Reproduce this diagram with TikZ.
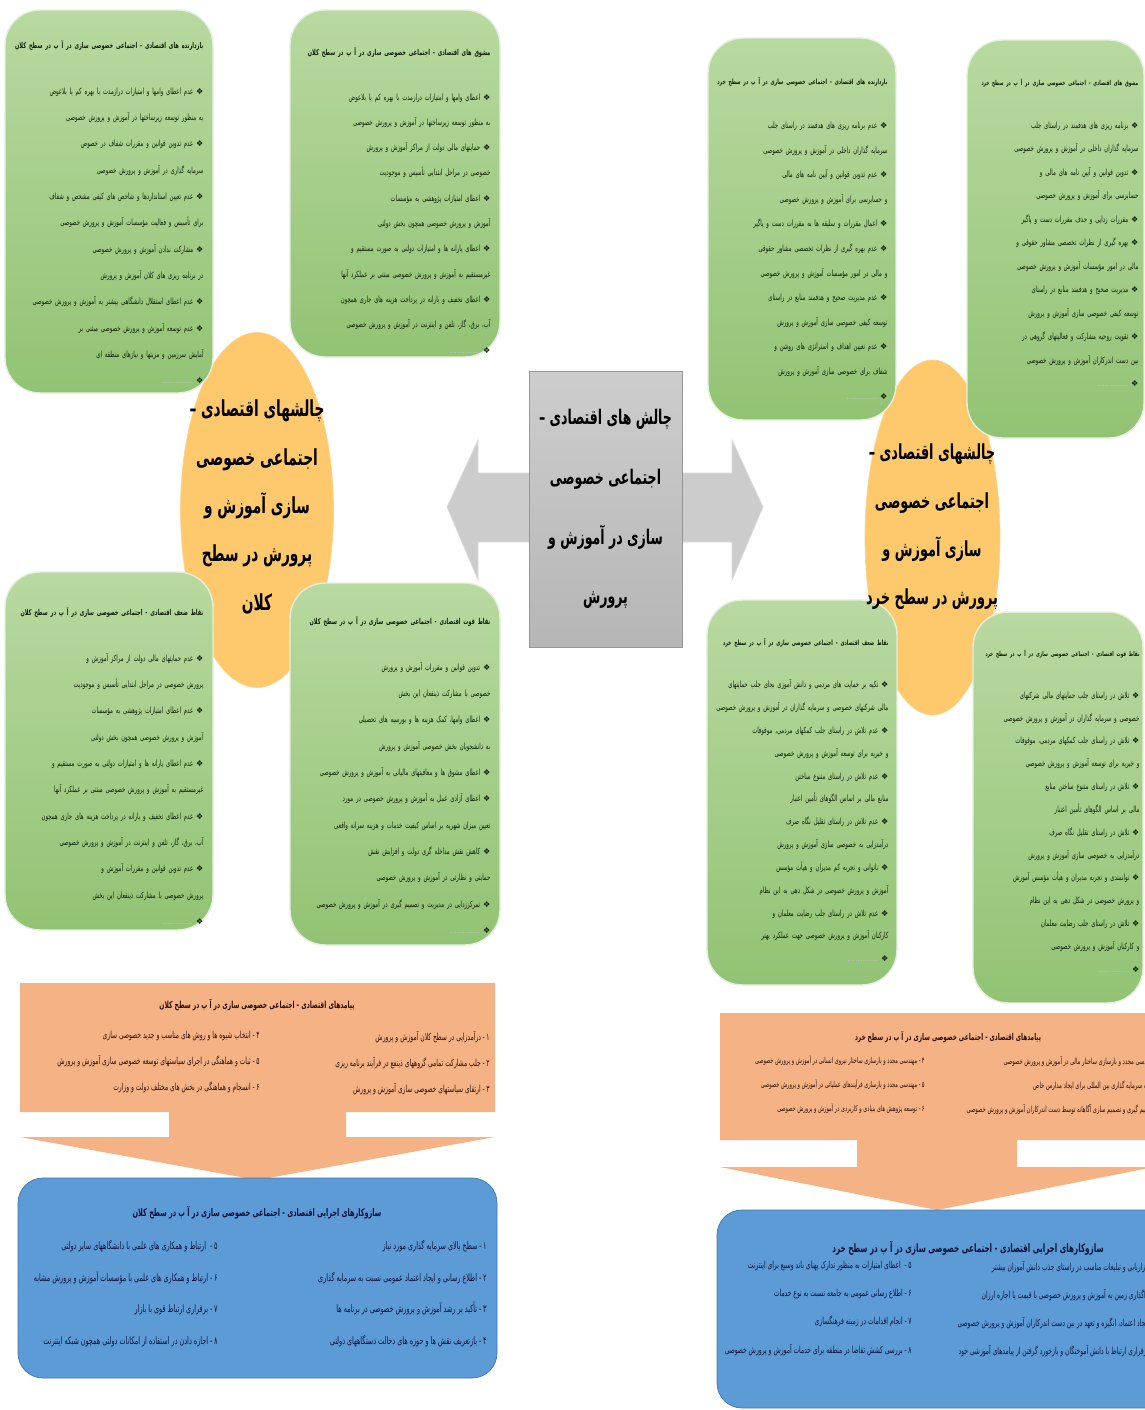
\documentclass[tikz,border=0pt]{standalone}
\usepackage{fontspec}
\usepackage{xcolor}
\usepackage{tikz}
\usetikzlibrary{positioning, shapes.geometric}
\TeXXeTstate=1
\newfontfamily\fa[Script=Arabic,FakeStretch=0.62]{DejaVu Sans}
\newfontfamily\dings{DejaVu Sans}

\definecolor{grnTop}{RGB}{184,217,160}
\definecolor{grnBot}{RGB}{146,195,116}
\definecolor{grnLine}{RGB}{228,239,220}
\definecolor{ylw}{RGB}{253,201,108}
\definecolor{gryTop}{RGB}{205,205,205}
\definecolor{gryBot}{RGB}{182,182,182}
\definecolor{gryLine}{RGB}{150,150,150}
\definecolor{gryArrow}{RGB}{204,204,204}
\definecolor{slmn}{RGB}{245,178,133}
\definecolor{blu}{RGB}{92,155,213}
\definecolor{bluLine}{RGB}{65,118,178}
\definecolor{txtGrn}{RGB}{14,32,6}
\definecolor{txtBlu}{RGB}{10,18,60}
\definecolor{txtSlm}{RGB}{44,16,6}

\newcommand{\rtl}[1]{\leavevmode\beginR#1\endR}
\newcommand{\itm}[1]{\leavevmode\beginR{\dings\fontsize{4.6}{5}\selectfont ❖}\ #1\endR\par}
\newcommand{\itmend}{\leavevmode{\color{gray!45}\dings\fontsize{4.6}{5}\selectfont............}\ {\dings\fontsize{4.6}{5}\selectfont ❖}\par}
\newcommand{\boxtitle}[2][4.6]{{\fontsize{#1}{13.5}\selectfont\bfseries\leavevmode\beginR#2\endR\par}\vspace{11pt}}

\begin{document}
\begin{tikzpicture}[
    x=0.02cm, y=-0.02cm,
    greenbox/.style = {draw=grnLine, line width=0.8pt, top color=grnTop, bottom color=grnBot,
        rectangle, rounded corners=0.7cm, inner sep=0pt},
    boxtext/.style = {font=\fa\fontsize{4.9}{#1}\selectfont, text=txtGrn, align=right, inner sep=0pt},
    hub/.style = {ellipse, fill=ylw, draw=ylw!80!white, inner sep=0pt},
    hubtext/.style = {font=\fa\fontsize{#1}{27.5}\selectfont\bfseries, align=center, inner sep=0pt},
    core/.style = {rectangle, draw=gryLine, top color=gryTop, bottom color=gryBot, inner sep=0pt,
        font=\fa\fontsize{11.5}{34}\selectfont\bfseries, align=center},
    bandtitle/.style = {font=\fa\fontsize{#1}{12}\selectfont\bfseries, inner sep=0pt},
    banditems/.style 2 args = {font=\fa\fontsize{#1}{#2}\selectfont, align=right, inner sep=0pt, anchor=north east}
  ]
    \useasboundingbox (0,0) rectangle (1145,1410);
    \clip (0,0) rectangle (1145,1410);
    \fill[white] (0,0) rectangle (1145,1410);

    % middle
    \fill[gryArrow, draw=gryArrow!70!white] (447,507) -- (478,440) -- (478,473) -- (732,473) -- (732,440)
        -- (763,507) -- (732,580) -- (732,542) -- (478,542) -- (478,580) -- cycle;
    \node[core, minimum width=3.06cm, minimum height=5.52cm] (core) at (605.5,509)
        {\rtl{چالش های اقتصادی –}\\ \rtl{اجتماعی خصوصی}\\ \rtl{سازی در آموزش و}\\ \rtl{پرورش}};

    % ----- سطح کلان -----
    \node[hub, minimum width=3.06cm, minimum height=7.1cm] (hubK) at (257,510) {};
    \node[greenbox, minimum width=4.16cm, minimum height=7.66cm] (bazK) at (109,201.5) {};
    \node[greenbox, minimum width=4.2cm, minimum height=6.94cm] (mashK) at (395,183.5) {};
    \node[greenbox, minimum width=4.16cm, minimum height=7.16cm] (zafK) at (109,751) {};
    \node[greenbox, minimum width=4.2cm, minimum height=7.24cm] (qovK) at (395,764) {};
    \node[hubtext=12.6] (hubKt) at (257,507)
        {\rtl{چالشهای اقتصادی –}\\ \rtl{اجتماعی خصوصی}\\ \rtl{سازی آموزش و}\\ \rtl{پرورش در سطح}\\ \rtl{کلان}};

    \node[boxtext=15, text width=3.8cm, below left=0.62cm and 0.2cm of bazK.north east] (bazKt) {%
        \boxtitle{بازدارنده های اقتصادی - اجتماعی خصوصی سازی در آ پ در سطح کلان}
        \itm{عدم اعطای وامها و امتیازات درازمدت با بهره کم یا بلاعوض به منظور توسعه زیرساختها در آموزش و پرورش خصوصی}
        \itm{عدم تدوین قوانین و مقررات شفاف در خصوص سرمایه گذاری در آموزش و پرورش خصوصی}
        \itm{عدم تعیین استانداردها و شاخص های کیفی مشخص و شفاف برای تأسیس و فعالیت مؤسسات آموزش و پرورش خصوصی}
        \itm{مشارکت ندادن آموزش و پرورش خصوصی در برنامه ریزی های کلان آموزش و پرورش}
        \itm{عدم اعطای استقلال دانشگاهی بیشتر به آموزش و پرورش خصوصی}
        \itm{عدم توسعه آموزش و پرورش خصوصی مبتنی بر آمایش سرزمین و مزیتها و نیازهای منطقه ای}
        \itmend};
    \node[boxtext=14.4, text width=3.8cm, below left=0.76cm and 0.2cm of mashK.north east] (mashKt) {%
        \boxtitle{مشوق های اقتصادی - اجتماعی خصوصی سازی در آ پ در سطح کلان}
        \itm{اعطای وامها و امتیازات درازمدت با بهره کم یا بلاعوض به منظور توسعه زیرساختها در آموزش و پرورش خصوصی}
        \itm{حمایتهای مالی دولت از مراکز آموزش و پرورش خصوصی در مراحل ابتدایی تأسیس و موجودیت}
        \itm{اعطای امتیازات پژوهشی به مؤسسات آموزش و پرورش خصوصی همچون بخش دولتی}
        \itm{اعطای یارانه ها و امتیازات دولتی به صورت مستقیم و غیرمستقیم به آموزش و پرورش خصوصی مبتنی بر عملکرد آنها}
        \itm{اعطای تخفیف و یارانه در پرداخت هزینه های جاری همچون آب، برق، گاز، تلفن و اینترنت در آموزش و پرورش خصوصی}
        \itmend};
    \node[boxtext=15, text width=3.8cm, below left=0.72cm and 0.2cm of zafK.north east] (zafKt) {%
        \boxtitle{نقاط ضعف اقتصادی - اجتماعی خصوصی سازی در آ پ در سطح کلان}
        \itm{عدم حمایتهای مالی دولت از مراکز آموزش و پرورش خصوصی در مراحل ابتدایی تأسیس و موجودیت}
        \itm{عدم اعطای امتیازات پژوهشی به مؤسسات آموزش و پرورش خصوصی همچون بخش دولتی}
        \itm{عدم اعطای یارانه ها و امتیازات دولتی به صورت مستقیم و غیرمستقیم به آموزش و پرورش خصوصی مبتنی بر عملکرد آنها}
        \itm{عدم اعطای تخفیف و یارانه در پرداخت هزینه های جاری همچون آب، برق، گاز، تلفن و اینترنت در آموزش و پرورش خصوصی}
        \itm{عدم تدوین قوانین و مقررات آموزش و پرورش خصوصی با مشارکت ذینفعان این بخش}
        \itmend};
    \node[boxtext=15, text width=3.8cm, below left=0.68cm and 0.2cm of qovK.north east] (qovKt) {%
        \boxtitle{نقاط قوت اقتصادی - اجتماعی خصوصی سازی در آ پ در سطح کلان}
        \itm{تدوین قوانین و مقررات آموزش و پرورش خصوصی با مشارکت ذینفعان این بخش}
        \itm{اعطای وامها، کمک هزینه ها و بورسیه های تحصیلی به دانشجویان بخش خصوصی آموزش و پرورش}
        \itm{اعطای مشوق ها و معافیتهای مالیاتی به آموزش و پرورش خصوصی}
        \itm{اعطای آزادی عمل به آموزش و پرورش خصوصی در مورد تعیین میزان شهریه بر اساس کیفیت خدمات و هزینه سرانه واقعی}
        \itm{کاهش نقش مداخله گری دولت و افزایش نقش حمایتی و نظارتی در آموزش و پرورش خصوصی}
        \itm{تمرکززدایی در مدیریت و تصمیم گیری در آموزش و پرورش خصوصی}
        \itmend};

    % پیامدها و سازوکارها (کلان)
    \fill[slmn] (20,983) -- (495,983) -- (495,1112) -- (346,1112) -- (346,1137) -- (495,1137) -- (257,1180)
        -- (20,1137) -- (169,1137) -- (169,1112) -- (20,1112) -- cycle;
    \draw[fill=blu, draw=bluLine, rounded corners=0.5cm] (18,1178) rectangle (497,1378);
    \node[bandtitle=5.5, text=txtSlm] (payK) at (257,1005) {\rtl{پیامدهای اقتصادی - اجتماعی خصوصی سازی در آ پ در سطح کلان}};
    \node[banditems={5.5}{14.8}, text=txtSlm] (payK1) at (490,1031) {%
        \rtl{۱\,-\,درآمدزایی در سطح کلان آموزش و پرورش}\\
        \rtl{۲\,-\ جلب مشارکت تمامی گروههای ذینفع در فرآیند برنامه ریزی}\\
        \rtl{۳\,-\ ارتقای سیاستهای خصوصی سازی آموزش و پرورش}};
    \node[banditems={5.5}{14.8}, text=txtSlm] (payK2) at (260,1031) {%
        \rtl{۴\,-\ انتخاب شیوه ها و روش های مناسب و جدید خصوصی سازی}\\
        \rtl{۵\,-\ ثبات و هماهنگی در اجرای سیاستهای توسعه خصوصی سازی آموزش و پرورش}\\
        \rtl{۶\,-\ انسجام و هماهنگی در بخش های مختلف دولت و وزارت}};
    \node[bandtitle=6, text=txtBlu] (sazK) at (257,1213) {\rtl{سازوکارهای اجرایی اقتصادی - اجتماعی خصوصی سازی در آ پ در سطح کلان}};
    \node[banditems={5.9}{18}, text=txtBlu] (sazK1) at (487,1240) {%
        \rtl{۱\,-\,سطح بالای سرمایه گذاری مورد نیاز}\\
        \rtl{۲\,-\ اطلاع رسانی و ایجاد اعتماد عمومی نسبت به سرمایه گذاری}\\
        \rtl{۳\,-\ تأکید بر رشد آموزش و پرورش خصوصی در برنامه ها}\\
        \rtl{۴\,-\ بازتعریف نقش ها و حوزه های دخالت دستگاههای دولتی}};
    \node[banditems={5.9}{18}, text=txtBlu] (sazK2) at (218,1240) {%
        \rtl{۵\,-\ \ ارتباط و همکاری های علمی با دانشگاههای سایر دولتی}\\
        \rtl{۶\,-\ ارتباط و همکاری های علمی با مؤسسات آموزش و پرورش مشابه}\\
        \rtl{۷\,-\ برقراری ارتباط قوی با بازار}\\
        \rtl{۸\,-\ اجازه دادن در استفاده از امکانات دولتی همچون شبکه اینترنت}};

    % ----- سطح خرد -----
    \node[hub, minimum width=2.7cm, minimum height=7.1cm] (hubX) at (932.5,537.5) {};
    \node[greenbox, minimum width=3.76cm, minimum height=7.64cm] (bazX) at (802,229) {};
    \node[greenbox, minimum width=3.54cm, minimum height=7.96cm] (mashX) at (1055.5,239) {};
    \node[greenbox, minimum width=3.8cm, minimum height=7.7cm] (zafX) at (802,792.5) {};
    \node[greenbox, minimum width=3.4cm, minimum height=7.82cm] (qovX) at (1058,807.5) {};
    \node[hubtext=11.8] (hubXt) at (932,527)
        {\rtl{چالشهای اقتصادی –}\\ \rtl{اجتماعی خصوصی}\\ \rtl{سازی آموزش و}\\ \rtl{پرورش در سطح خرد}};

    \node[boxtext=14, text width=3.45cm, below left=0.8cm and 0.18cm of bazX.north east] (bazXt) {%
        \boxtitle[4.1]{بازدارنده های اقتصادی - اجتماعی خصوصی سازی در آ پ در سطح خرد}
        \itm{عدم برنامه ریزی های هدفمند در راستای جلب سرمایه گذاران داخلی در آموزش و پرورش خصوصی}
        \itm{عدم تدوین قوانین و آیین نامه های مالی و حسابرسی برای آموزش و پرورش خصوصی}
        \itm{اعمال مقررات و سلیقه ها به مقررات دست و پاگیر}
        \itm{عدم بهره گیری از نظرات تخصصی مشاور حقوقی و مالی در امور مؤسسات آموزش و پرورش خصوصی}
        \itm{عدم مدیریت صحیح و هدفمند منابع در راستای توسعه کیفی خصوصی سازی آموزش و پرورش}
        \itm{عدم تعیین اهداف و استراتژی های روشن و شفاف برای خصوصی سازی آموزش و پرورش}
        \itmend};
    \node[boxtext=13.4, text width=3.2cm, below left=0.78cm and 0.12cm of mashX.north east] (mashXt) {%
        \boxtitle[3.85]{مشوق های اقتصادی - اجتماعی خصوصی سازی در آ پ در سطح خرد}
        \itm{برنامه ریزی های هدفمند در راستای جلب سرمایه گذاران داخلی در آموزش و پرورش خصوصی}
        \itm{تدوین قوانین و آیین نامه های مالی و حسابرسی برای آموزش و پرورش خصوصی}
        \itm{مقررات زدایی و حذف مقررات دست و پاگیر}
        \itm{بهره گیری از نظرات تخصصی مشاور حقوقی و مالی در امور مؤسسات آموزش و پرورش خصوصی}
        \itm{مدیریت صحیح و هدفمند منابع در راستای توسعه کیفی خصوصی سازی آموزش و پرورش}
        \itm{تقویت روحیه مشارکت و فعالیتهای گروهی در بین دست اندرکاران آموزش و پرورش خصوصی}
        \itmend};
    \node[boxtext=13, text width=3.45cm, below left=0.78cm and 0.18cm of zafX.north east] (zafXt) {%
        \boxtitle[4.1]{نقاط ضعف اقتصادی - اجتماعی خصوصی سازی در آ پ در سطح خرد}
        \itm{تکیه بر حمایت های مردمی و دانش آموزی بجای جلب حمایتهای مالی شرکتهای خصوصی و سرمایه گذاران در آموزش و پرورش خصوصی}
        \itm{عدم تلاش در راستای جلب کمکهای مردمی، موقوفات و خیریه برای توسعه آموزش و پرورش خصوصی}
        \itm{عدم تلاش در راستای متنوع ساختن منابع مالی بر اساس الگوهای تأمین اعتبار}
        \itm{عدم تلاش در راستای تقلیل نگاه صرف درآمدزایی به خصوصی سازی آموزش و پرورش}
        \itm{ناتوانی و تجربه کم مدیران و هیأت مؤسس آموزش و پرورش خصوصی در شکل دهی به این نظام}
        \itm{عدم تلاش در راستای جلب رضایت معلمان و کارکنان آموزش و پرورش خصوصی جهت عملکرد بهتر}
        \itmend};
    \node[boxtext=13, text width=3.15cm, below left=0.76cm and 0.08cm of qovX.north east] (qovXt) {%
        \boxtitle[3.8]{نقاط قوت اقتصادی - اجتماعی خصوصی سازی در آ پ در سطح خرد}
        \itm{تلاش در راستای جلب حمایتهای مالی شرکتهای خصوصی و سرمایه گذاران در آموزش و پرورش خصوصی}
        \itm{تلاش در راستای جلب کمکهای مردمی، موقوفات و خیریه برای توسعه آموزش و پرورش خصوصی}
        \itm{تلاش در راستای متنوع ساختن منابع مالی بر اساس الگوهای تأمین اعتبار}
        \itm{تلاش در راستای تقلیل نگاه صرف درآمدزایی به خصوصی سازی آموزش و پرورش}
        \itm{توانمندی و تجربه مدیران و هیأت مؤسس آموزش و پرورش خصوصی در شکل دهی به این نظام}
        \itm{تلاش در راستای جلب رضایت معلمان و کارکنان آموزش و پرورش خصوصی}
        \itmend};

    % پیامدها و سازوکارها (خرد)
    \fill[slmn] (720,1013) -- (1154,1013) -- (1154,1140) -- (1017,1140) -- (1017,1167) -- (1154,1167) -- (937,1210)
        -- (720,1167) -- (857,1167) -- (857,1140) -- (720,1140) -- cycle;
    \draw[fill=blu, draw=bluLine, rounded corners=0.5cm] (717,1210) rectangle (1175,1408);
    \node[bandtitle=5.3, text=txtSlm] (payX) at (948,1037) {\rtl{پیامدهای اقتصادی - اجتماعی خصوصی سازی در آ پ در سطح خرد}};
    \node[banditems={4.8}{13.6}, text=txtSlm] (payX1) at (1162,1056) {%
        \rtl{۱\,-\ مهندسی مجدد و بازسازی ساختار مالی در آموزش و پرورش خصوصی}\\
        \rtl{۲\,-\ جلب سرمایه گذاری بین المللی برای ایجاد مدارس خاص}\\
        \rtl{۳\,-\ تصمیم گیری و تصمیم سازی آگاهانه توسط دست اندرکاران آموزش و پرورش خصوصی}};
    \node[banditems={4.6}{13.6}, text=txtSlm] (payX2) at (925,1056) {%
        \rtl{۴\,-\ مهندسی مجدد و بازسازی ساختار نیروی انسانی در آموزش و پرورش خصوصی}\\
        \rtl{۵\,-\ مهندسی مجدد و بازسازی فرآیندهای عملیاتی در آموزش و پرورش خصوصی}\\
        \rtl{۶\,-\ توسعه پژوهش های بنیادی و کاربردی در آموزش و پرورش خصوصی}};
    \node[bandtitle=6.6, text=txtBlu] (sazX) at (968,1248) {\rtl{سازوکارهای اجرایی اقتصادی - اجتماعی خصوصی سازی در آ پ در سطح خرد}};
    \node[banditems={5.5}{16}, text=txtBlu] (sazX1) at (1158,1261) {%
        \rtl{۱\,-\ بازاریابی و تبلیغات مناسب در راستای جذب دانش آموزان بیشتر}\\
        \rtl{۲\,-\ واگذاری زمین به آموزش و پرورش خصوصی با قیمت یا اجاره ارزان}\\
        \rtl{۳\,-\ ایجاد اعتماد، انگیزه و تعهد در بین دست اندرکاران آموزش و پرورش خصوصی}\\
        \rtl{۴\,-\ برقراری ارتباط با دانش آموختگان و بازخورد گرفتن از پیامدهای آموزشی خود}};
    \node[banditems={5.5}{16}, text=txtBlu] (sazX2) at (912,1261) {%
        \rtl{۵\,-\ \ اعطای امتیازات به منظور تدارک پهنای باند وسیع برای اینترنت}\\
        \rtl{۶\,-\ اطلاع رسانی عمومی به جامعه نسبت به نوع خدمات}\\
        \rtl{۷\,-\ انجام اقدامات در زمینه فرهنگسازی}\\
        \rtl{۸\,-\ بررسی کشش تقاضا در منطقه برای خدمات آموزش و پرورش خصوصی}};
\end{tikzpicture}
\end{document}
